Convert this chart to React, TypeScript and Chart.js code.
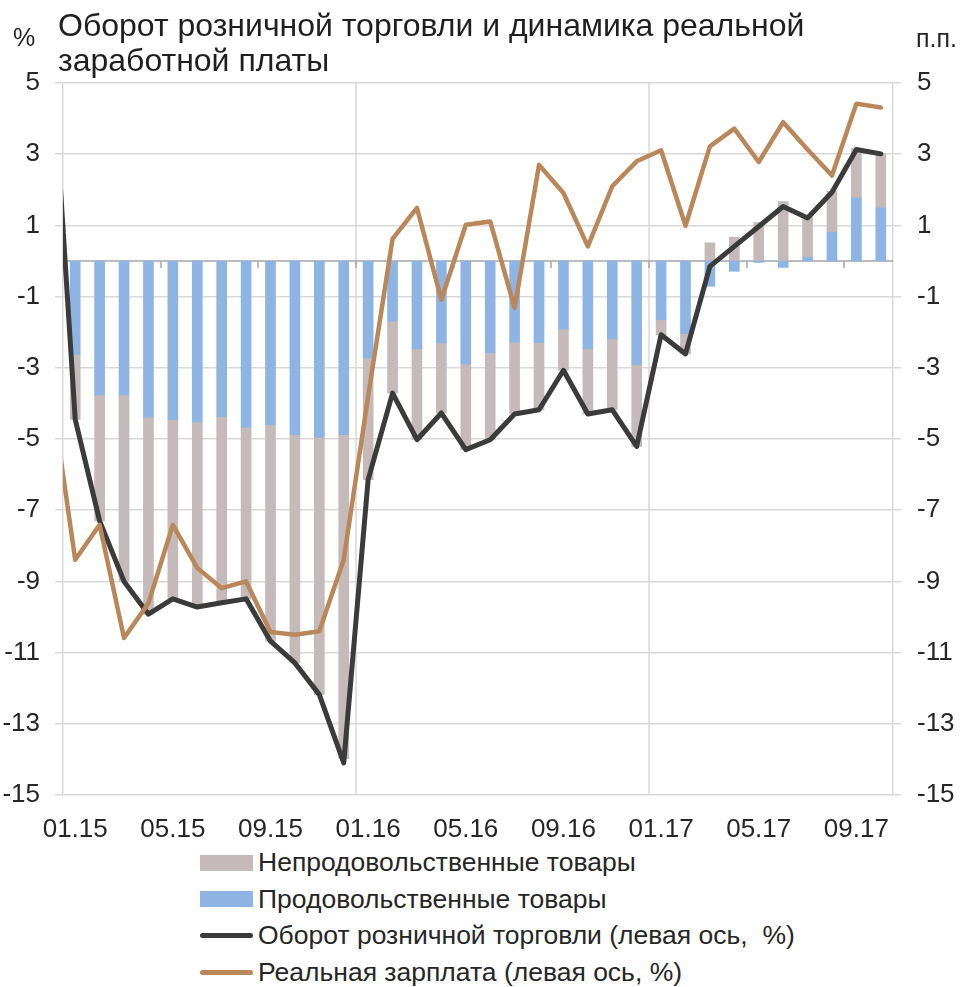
import React, { useEffect, useRef } from 'react';
import { Chart, registerables } from 'chart.js';

Chart.register(...registerables);

// Months on the category axis (01.15 … 10.17)
const months = [
  '01.15', '02.15', '03.15', '04.15', '05.15', '06.15', '07.15', '08.15', '09.15', '10.15', '11.15', '12.15',
  '01.16', '02.16', '03.16', '04.16', '05.16', '06.16', '07.16', '08.16', '09.16', '10.16', '11.16', '12.16',
  '01.17', '02.17', '03.17', '04.17', '05.17', '06.17', '07.17', '08.17', '09.17', '10.17',
];

// Labelled months on the x axis
const tickLabels = ['01.15', '05.15', '09.15', '01.16', '05.16', '09.16', '01.17', '05.17', '09.17'];
// Year boundaries with vertical gridlines
const yearStarts = ['01.16', '01.17'];
// Y ticks (both axes)
const yTicks = [5, 3, 1, -1, -3, -5, -7, -9, -11, -13, -15];

// Contribution of food goods, p.p.
const foodGoods = [
  -2.63, -3.76, -3.76, -4.39, -4.46, -4.52, -4.37, -4.67, -4.6, -4.88, -4.95, -4.88,
  -2.74, -1.69, -2.46, -2.3, -2.89, -2.58, -2.28, -2.29, -1.91, -2.46, -2.19, -2.91,
  -1.65, -2.04, -0.71, -0.29, -0.04, -0.18, 0.1, 0.81, 1.77, 1.49,
];

// Contribution of non-food goods, p.p.
const nonFoodGoods = [
  -1.82, -3.54, -5.24, -5.53, -5.03, -5.2, -5.23, -4.82, -6.08, -6.41, -7.23, -9.1,
  -3.4, -2.02, -2.56, -1.97, -2.41, -2.44, -2.02, -1.89, -1.16, -1.84, -1.99, -2.3,
  -0.42, -0.57, 0.51, 0.67, 1.08, 1.67, 1.14, 1.15, 1.4, 1.52,
];

// Retail turnover, % y/y (left axis)
const retailTurnover = [
  -4.45, -7.3, -9.0, -9.92, -9.49, -9.72, -9.6, -9.49, -10.68, -11.29, -12.18, -14.1,
  -6.14, -3.71, -5.02, -4.27, -5.3, -5.02, -4.3, -4.18, -3.07, -4.3, -4.18, -5.21,
  -2.07, -2.61, -0.15, 0.41, 0.97, 1.53, 1.21, 1.93, 3.13, 3.01,
];

// Real wages, % y/y (left axis)
const realWage = [
  -8.39, -7.41, -10.59, -9.61, -7.41, -8.62, -9.19, -9.0, -10.42, -10.5, -10.4, -8.39,
  -3.8, 0.62, 1.49, -1.09, 1.02, 1.11, -1.32, 2.7, 1.91, 0.41, 2.1, 2.8,
  3.11, 0.99, 3.22, 3.72, 2.78, 3.9, 3.13, 2.4, 4.42, 4.31,
];

// December 2014 values (only the clipped lead-in segment is visible)
const retailTurnoverDec14 = 6.3;
const realWageDec14 = -3.6;

const FONT = '"Liberation Sans", Arial, sans-serif';
const TEXT = '#262626';
const GRID = '#d9d9d9';
const AXIS = '#a6a6a6';
const C_FOOD = '#8db4e2';
const C_NONFOOD = '#c4baba';
const C_RETAIL = '#3b3b3b';
const C_WAGE = '#b9875a';

const axisDecor = {
  id: 'axisDecor',
  beforeDatasetsDraw(chart: any) {
    const { ctx, chartArea: a, scales } = chart;
    const x = scales.x;
    const y = scales.y;
    ctx.save();
    ctx.lineWidth = 1.5;
    ctx.strokeStyle = GRID;
    yearStarts.forEach((m) => {
      const px = Math.round(x.getPixelForValue(months.indexOf(m) - 0.5));
      ctx.beginPath();
      ctx.moveTo(px, a.top);
      ctx.lineTo(px, a.bottom);
      ctx.stroke();
    });
    const y0 = y.getPixelForValue(0);
    ctx.strokeStyle = AXIS;
    ctx.beginPath();
    ctx.moveTo(a.left, y0);
    ctx.lineTo(a.right, y0);
    ctx.stroke();
    tickLabels.slice(1).forEach((m) => {
      const px = Math.round(x.getPixelForValue(months.indexOf(m) - 0.5));
      ctx.beginPath();
      ctx.moveTo(px, y0);
      ctx.lineTo(px, y0 + 7);
      ctx.stroke();
    });
    ctx.restore();
  },
};

const setYTicks = (scale: any) => {
  scale.ticks = yTicks.map((v) => ({ value: v }));
};

function ChartCanvas() {
  const ref = useRef<HTMLCanvasElement | null>(null);
  useEffect(() => {
    if (!ref.current) return;
    Chart.defaults.font.family = FONT;
    Chart.defaults.font.size = 26;
    Chart.defaults.color = TEXT;
    const pts = (arr: number[]) => arr.map((v, i) => ({ x: i, y: v }));
    const chart = new Chart(ref.current, {
      type: 'bar',
      data: {
        datasets: [
          {
            type: 'line',
            label: 'Реальная зарплата (левая ось, %)',
            data: [{ x: -1, y: realWageDec14 }, ...pts(realWage)],
            yAxisID: 'yl',
            borderColor: C_WAGE,
            backgroundColor: C_WAGE,
            borderWidth: 4.5,
            pointRadius: 0,
            tension: 0,
            borderJoinStyle: 'round',
            borderCapStyle: 'round',
            clip: 0,
            order: 0,
          } as any,
          {
            type: 'line',
            label: 'Оборот розничной торговли (левая ось,  %)',
            data: [{ x: -1, y: retailTurnoverDec14 }, ...pts(retailTurnover)],
            yAxisID: 'yl',
            borderColor: C_RETAIL,
            backgroundColor: C_RETAIL,
            borderWidth: 5,
            pointRadius: 0,
            tension: 0,
            borderJoinStyle: 'round',
            borderCapStyle: 'round',
            clip: 0,
            order: 1,
          } as any,
          {
            type: 'bar',
            label: 'Продовольственные товары',
            data: pts(foodGoods),
            yAxisID: 'y',
            backgroundColor: C_FOOD,
            barThickness: 10,
            order: 2,
          } as any,
          {
            type: 'bar',
            label: 'Непродовольственные товары',
            data: pts(nonFoodGoods),
            yAxisID: 'y',
            backgroundColor: C_NONFOOD,
            barThickness: 10,
            order: 3,
          } as any,
        ],
      },
      options: {
        animation: false,
        responsive: false,
        maintainAspectRatio: false,
        layout: { padding: { top: 83, left: 0, right: 0, bottom: 0 } },
        plugins: { legend: { display: false }, tooltip: { enabled: false }, title: { display: false } },
        scales: {
          x: {
            type: 'linear',
            stacked: true,
            offset: false,
            min: -0.5,
            max: months.length - 0.5,
            afterBuildTicks: (scale: any) => {
              scale.ticks = tickLabels.map((l) => ({ value: months.indexOf(l) }));
            },
            afterFit: (scale: any) => {
              scale.height = 50;
            },
            ticks: {
              autoSkip: false,
              maxRotation: 0,
              padding: 11,
              color: TEXT,
              callback: (v: any) => months[Math.round(Number(v))],
            },
            grid: { display: false, offset: false },
            border: { display: false },
          },
          y: {
            type: 'linear',
            position: 'left',
            stacked: true,
            min: -15,
            max: 5,
            afterBuildTicks: setYTicks,
            afterFit: (scale: any) => {
              scale.width = 63;
            },
            ticks: { padding: 15, color: TEXT },
            grid: { color: GRID, lineWidth: 1.5, tickLength: 8, drawTicks: true },
            border: { display: true, color: GRID, width: 1.5 },
          },
          yl: {
            type: 'linear',
            display: false,
            min: -15,
            max: 5,
          },
          y2: {
            type: 'linear',
            position: 'right',
            display: true,
            min: -15,
            max: 5,
            afterBuildTicks: setYTicks,
            afterFit: (scale: any) => {
              scale.width = 68;
            },
            ticks: { padding: 16, color: TEXT },
            grid: { drawOnChartArea: false, drawTicks: true, tickLength: 8, color: GRID, lineWidth: 1.5 },
            border: { display: true, color: GRID, width: 1.5 },
          },
        },
      } as any,
      plugins: [axisDecor],
    });
    return () => chart.destroy();
  }, []);
  return <canvas ref={ref} width={961} height={845} style={{ position: 'absolute', left: 0, top: 0, width: 961, height: 845 }} />;
}

const legendItems = [
  { label: 'Непродовольственные товары', color: C_NONFOOD, kind: 'box' },
  { label: 'Продовольственные товары', color: C_FOOD, kind: 'box' },
  { label: 'Оборот розничной торговли (левая ось,  %)', color: C_RETAIL, kind: 'line' },
  { label: 'Реальная зарплата (левая ось, %)', color: C_WAGE, kind: 'line' },
];

export default function App() {
  return (
    <div style={{ position: 'absolute', left: 0, top: 0, width: 961, height: 987, background: '#fff', fontFamily: FONT, color: TEXT, overflow: 'hidden' }}>
      <ChartCanvas />
      <div style={{ position: 'absolute', left: 58, top: 8, fontSize: 32, lineHeight: '35px', color: '#1f1f1f', whiteSpace: 'nowrap' }}>
        Оборот розничной торговли и динамика реальной
        <br />
        заработной платы
      </div>
      <div style={{ position: 'absolute', left: 13, top: 25, fontSize: 25, lineHeight: '25px' }}>%</div>
      <div style={{ position: 'absolute', left: 916, top: 26, fontSize: 25, lineHeight: '25px' }}>п.п.</div>
      {legendItems.map((it, i) => (
        <div
          key={it.label}
          style={{ position: 'absolute', left: 200, top: 862.5 + i * 36.5 - 18, height: 36, display: 'flex', alignItems: 'center', whiteSpace: 'pre', fontSize: 26.5 }}
        >
          {it.kind === 'box' ? (
            <div style={{ width: 53, height: 16, background: it.color }} />
          ) : (
            <div style={{ width: 53, height: 5, borderRadius: 3, background: it.color }} />
          )}
          <span style={{ marginLeft: 5 }}>{it.label}</span>
        </div>
      ))}
    </div>
  );
}
